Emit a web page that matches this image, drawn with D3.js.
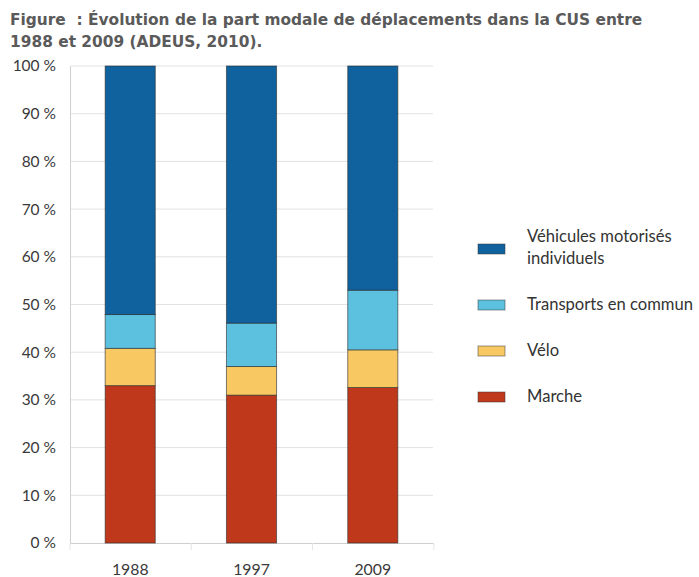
<!DOCTYPE html>
<html><head><meta charset="utf-8">
<script src="https://cdn.jsdelivr.net/npm/d3@7"></script>
<style>body{margin:0;background:#fff}svg{display:block}</style>
</head><body>
<svg id="c" width="699" height="577"></svg>
<script>
const years = ["1988", "1997", "2009"];
const seriesNames = ["Marche", "Vélo", "Transports en commun", "Véhicules motorisés individuels"];
const marche = [33.0, 31.0, 32.6];
const velo = [7.8, 6.0, 7.9];
const transports = [7.1, 9.1, 12.5];
const vehicules = [52.1, 53.9, 47.0];
const colors = ["#c0381b", "#f8c963", "#5bc1df", "#10629e"];
const yTicks = [0, 10, 20, 30, 40, 50, 60, 70, 80, 90, 100];

const svg = d3.select("#c");
const font = "Lato, 'Open Sans', sans-serif";

// title
const title = svg.append("g").attr("font-family", "'DejaVu Sans', Verdana, sans-serif")
  .attr("font-weight", "bold").attr("font-size", 15.4).attr("fill", "#5a5a5a");
title.append("text").attr("x", 10).attr("y", 25).text("Figure\u00a0 : Évolution de la part modale de déplacements dans la CUS entre");
title.append("text").attr("x", 10).attr("y", 47).text("1988 et 2009 (ADEUS, 2010).");

const x = d3.scaleBand().domain(years).range([70, 433]).paddingInner(0.587).paddingOuter(0.29);
const y = d3.scaleLinear().domain([0, 100]).range([543, 66]);

// grid
svg.append("g").selectAll("line").data(yTicks.filter(d => d > 0)).join("line")
  .attr("x1", 70).attr("x2", 433).attr("y1", d => y(d)).attr("y2", d => y(d))
  .attr("stroke", "#e2e2e2").attr("stroke-width", 1);

// y axis
const yAxis = svg.append("g").attr("transform", "translate(70,0)")
  .call(d3.axisLeft(y).tickValues(yTicks).tickFormat(d => d + " %").tickSize(0).tickPadding(14));
yAxis.select(".domain").attr("stroke", "#cfcfcf");
yAxis.selectAll("text").attr("font-family", font).attr("font-size", 15.5).attr("fill", "#3a3a3a");

// x axis
const xAxis = svg.append("g").attr("transform", "translate(0,543)")
  .call(d3.axisBottom(x).tickSize(0).tickPadding(21));
xAxis.select(".domain").attr("stroke", "#cfcfcf");
xAxis.selectAll("text").attr("font-family", font).attr("font-size", 15.8).attr("fill", "#3a3a3a");
// category separator ticks
const step = x.step();
svg.append("g").selectAll("line").data(d3.range(years.length + 1)).join("line")
  .attr("x1", i => 70 + i * step).attr("x2", i => 70 + i * step)
  .attr("y1", 543).attr("y2", 550).attr("stroke", "#e4e4e4");

// stacked bars
const rows = years.map((yr, i) => ({year: yr, "Marche": marche[i], "Vélo": velo[i],
  "Transports en commun": transports[i], "Véhicules motorisés individuels": vehicules[i]}));
const stack = d3.stack().keys(seriesNames)(rows);
svg.append("g").selectAll("g").data(stack).join("g")
  .attr("fill", (d, i) => colors[i])
  .selectAll("rect").data(d => d).join("rect")
  .attr("x", d => x(d.data.year)).attr("width", x.bandwidth())
  .attr("y", d => y(d[1])).attr("height", d => y(d[0]) - y(d[1]))
  .attr("stroke", "#2a2a2a").attr("stroke-opacity", 0.6).attr("stroke-width", 1);

// legend
const legendItems = [
  {name: ["Véhicules motorisés", "individuels"], color: colors[3], y: 249},
  {name: ["Transports en commun"], color: colors[2], y: 305},
  {name: ["Vélo"], color: colors[1], y: 351},
  {name: ["Marche"], color: colors[0], y: 397}
];
const lg = svg.append("g");
legendItems.forEach(it => {
  lg.append("rect").attr("x", 478).attr("y", it.y - 5).attr("width", 27).attr("height", 10)
    .attr("fill", it.color).attr("stroke", "#333").attr("stroke-opacity", 0.5);
  const t = lg.append("text").attr("font-family", font).attr("font-size", 16.6).attr("fill", "#333");
  if (it.name.length === 1) {
    t.append("tspan").attr("x", 527).attr("y", it.y + 5).text(it.name[0]);
  } else {
    t.append("tspan").attr("x", 527).attr("y", it.y - 7).text(it.name[0]);
    t.append("tspan").attr("x", 527).attr("y", it.y + 15).text(it.name[1]);
  }
});
</script>
</body></html>
